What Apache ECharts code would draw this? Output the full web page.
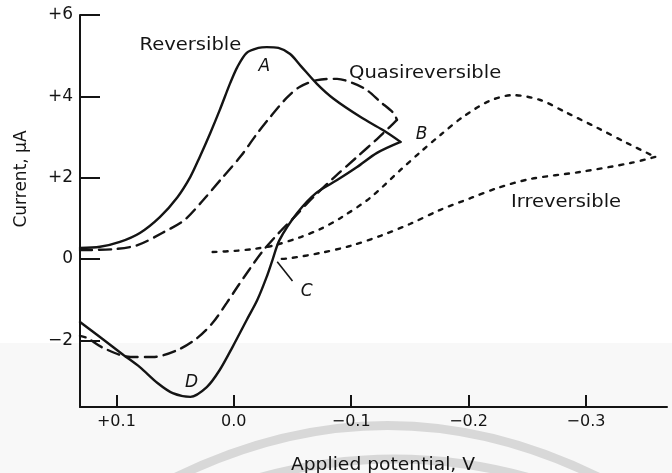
<!DOCTYPE html>
<html>
<head>
<meta charset="utf-8">
<script src="https://cdn.jsdelivr.net/npm/echarts@6/dist/echarts.min.js"></script>
<style>
  html, body { margin: 0; padding: 0; background: #ffffff; }
  #chart { width: 672px; height: 473px; }
</style>
</head>
<body>
<div id="chart"></div>
<script>
// Cyclic voltammograms: [applied potential (V), current (µA)]
const reversibleForward = [
  [0.131, 0.27], [0.114, 0.30], [0.097, 0.42], [0.080, 0.64], [0.063, 1.03],
  [0.048, 1.52], [0.037, 2.02], [0.029, 2.51], [0.020, 3.10], [0.012, 3.66],
  [0.003, 4.33], [-0.003, 4.72], [-0.011, 5.07], [-0.021, 5.19], [-0.028, 5.21],
  [-0.038, 5.19], [-0.048, 5.04], [-0.057, 4.75], [-0.071, 4.30], [-0.085, 3.94],
  [-0.108, 3.49], [-0.127, 3.17], [-0.142, 2.88]
];
const reversibleReverse = [
  [-0.142, 2.88], [-0.122, 2.61], [-0.105, 2.26], [-0.088, 1.94], [-0.070, 1.62],
  [-0.054, 1.13], [-0.039, 0.47], [-0.033, -0.02], [-0.028, -0.44], [-0.020, -1.01],
  [-0.011, -1.50], [0.001, -2.16], [0.012, -2.73], [0.023, -3.15], [0.037, -3.39],
  [0.052, -3.30], [0.065, -3.05], [0.080, -2.66], [0.094, -2.36], [0.114, -1.92],
  [0.131, -1.55]
];
const quasiForward = [
  [0.131, 0.22], [0.103, 0.24], [0.082, 0.34], [0.061, 0.64], [0.042, 0.96],
  [0.026, 1.45], [0.010, 1.99], [-0.006, 2.53], [-0.019, 3.05], [-0.031, 3.49],
  [-0.045, 3.96], [-0.056, 4.23], [-0.071, 4.40], [-0.088, 4.43], [-0.101, 4.33],
  [-0.113, 4.16], [-0.125, 3.86], [-0.136, 3.59], [-0.139, 3.42]
];
const quasiReverse = [
  [-0.139, 3.42], [-0.133, 3.25], [-0.122, 2.95], [-0.105, 2.51], [-0.086, 2.02],
  [-0.067, 1.50], [-0.051, 1.01], [-0.039, 0.66], [-0.024, 0.17], [-0.013, -0.27],
  [-0.003, -0.69], [0.006, -1.08], [0.018, -1.57], [0.031, -1.94], [0.048, -2.24],
  [0.069, -2.41], [0.088, -2.41], [0.111, -2.19], [0.125, -1.94], [0.131, -1.89]
];
const irreversibleForward = [
  [0.018, 0.17], [-0.001, 0.20], [-0.018, 0.25], [-0.035, 0.34], [-0.057, 0.54],
  [-0.074, 0.74], [-0.091, 1.01], [-0.116, 1.50], [-0.142, 2.19], [-0.159, 2.63],
  [-0.176, 3.05], [-0.195, 3.49], [-0.218, 3.89], [-0.238, 4.03], [-0.261, 3.91],
  [-0.284, 3.59], [-0.310, 3.22], [-0.335, 2.85], [-0.359, 2.51]
];
const irreversibleReverse = [
  [-0.359, 2.51], [-0.338, 2.36], [-0.295, 2.14], [-0.253, 1.97], [-0.225, 1.75],
  [-0.202, 1.50], [-0.176, 1.21], [-0.150, 0.86], [-0.125, 0.57], [-0.099, 0.32],
  [-0.074, 0.15], [-0.048, 0.02], [-0.038, 0.00]
];
// Leader line pointing at the crossing point C
const leaderC = [[-0.037, -0.07], [-0.050, -0.54]];

const xTicks = [0.1, 0.0, -0.1, -0.2, -0.3];
const yTicks = [6, 4, 2, 0, -2];

// Curve annotations: [potential, current, text, italic]
const annotations = [
  [0.037, 5.26, 'Reversible', false],
  [-0.163, 4.55, 'Quasireversible', false],
  [-0.283, 1.38, 'Irreversible', false],
  [-0.026, 4.72, 'A', true],
  [-0.160, 3.07, 'B', true],
  [-0.062, -0.79, 'C', true],
  [0.036, -3.03, 'D', true]
];
const xTitle = 'Applied potential, V';
const yTitle = 'Current, \u03bcA';

const FONT = '"DejaVu Sans", "Liberation Sans", sans-serif';
const INK = '#141414';

function fmtX(v) {
  const r = Math.round(v * 10) / 10;
  if (r > 0) return '+' + r.toFixed(1);
  if (r < 0) return '\u2212' + Math.abs(r).toFixed(1);
  return '0.0';
}
function fmtY(v) {
  if (v > 0) return '+' + v;
  if (v < 0) return '\u2212' + Math.abs(v);
  return '0';
}

function curve(name, data, dash) {
  return {
    name, type: 'line', data, symbol: 'none', smooth: 0.3,
    lineStyle: { color: INK, width: 2.4, type: dash, cap: 'round' },
    z: 3, silent: true
  };
}

const chart = echarts.init(document.getElementById('chart'), null, { renderer: 'canvas' });

chart.setOption({
  animation: false,
  backgroundColor: '#ffffff',
  grid: { left: 80, right: 5, top: 15, bottom: 66, outerBoundsMode: 'none' },
  xAxis: {
    type: 'value', inverse: true, min: -0.369, max: 0.131,
    axisLine: { show: true, onZero: false, lineStyle: { color: INK, width: 2 } },
    axisTick: { show: true, inside: true, length: 12, customValues: xTicks,
      lineStyle: { color: INK, width: 2 } },
    axisLabel: { customValues: xTicks, formatter: fmtX, fontSize: 16, fontFamily: FONT,
      color: INK, margin: 7 },
    splitLine: { show: false }
  },
  yAxis: {
    type: 'value', min: -3.64, max: 6,
    axisLine: { show: true, onZero: false, lineStyle: { color: INK, width: 2 } },
    axisTick: { show: true, inside: true, length: 20, customValues: yTicks,
      lineStyle: { color: INK, width: 2 } },
    axisLabel: { customValues: yTicks, formatter: fmtY, fontSize: 17, fontFamily: FONT,
      color: INK, margin: 7 },
    splitLine: { show: false }
  },
  series: [
    curve('Reversible', reversibleForward, 'solid'),
    curve('Reversible return', reversibleReverse, 'solid'),
    curve('Quasireversible', quasiForward, [12, 7]),
    curve('Quasireversible return', quasiReverse, [12, 7]),
    curve('Irreversible', irreversibleForward, [4, 7]),
    curve('Irreversible return', irreversibleReverse, [4, 7]),
    {
      name: 'C leader', type: 'line', data: leaderC, symbol: 'none',
      lineStyle: { color: INK, width: 1.6 }, z: 3, silent: true
    }
  ]
});

// Text annotations placed through the chart's own coordinate system
const labelGraphics = annotations.map(([v, i, text, italic]) => {
  const [px, py] = chart.convertToPixel({ gridIndex: 0 }, [v, i]);
  return {
    type: 'text', x: px, y: py, z: 10,
    scaleX: italic ? 1 : 1.15,
    style: {
      text, fill: INK, align: 'center', verticalAlign: 'middle',
      font: (italic ? 'italic ' : '') + '17px ' + FONT
    }
  };
});

chart.setOption({
  graphic: [
    // faint tint of the lower page area
    { type: 'rect', z: -20, shape: { x: 0, y: 343, width: 672, height: 130 },
      style: { fill: '#f8f8f8' }, silent: true },
    // grey arcs printed behind the axis title
    { type: 'bezierCurve', z: -10, silent: true,
      shape: { x1: 170, y1: 480, cpx1: 390, cpy1: 370, x2: 608, y2: 482 },
      style: { stroke: '#d8d8d8', lineWidth: 9, fill: null } },
    { type: 'bezierCurve', z: -10, silent: true,
      shape: { x1: 232, y1: 486, cpx1: 395, cpy1: 432, x2: 556, y2: 486 },
      style: { stroke: '#d8d8d8', lineWidth: 9, fill: null } },
    { type: 'text', x: 383, y: 466, z: 10, scaleX: 1.1,
      style: { text: xTitle, fill: INK, align: 'center', verticalAlign: 'middle',
        font: '17px ' + FONT } },
    { type: 'text', x: 22, y: 179, z: 10, rotation: Math.PI / 2,
      style: { text: yTitle, fill: INK, align: 'center', verticalAlign: 'middle',
        font: '17px ' + FONT } }
  ].concat(labelGraphics)
});
</script>
</body>
</html>
